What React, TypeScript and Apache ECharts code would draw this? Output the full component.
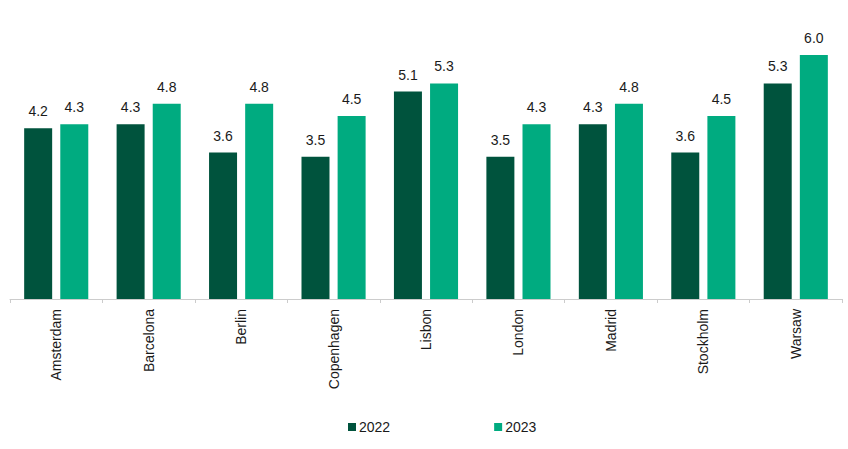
import React, { useEffect, useRef } from "react";
import * as echarts from "echarts";

const categories = ["Amsterdam", "Barcelona", "Berlin", "Copenhagen", "Lisbon", "London", "Madrid", "Stockholm", "Warsaw"];
const values2022 = [4.2, 4.3, 3.6, 3.5, 5.1, 3.5, 4.3, 3.6, 5.3];
const values2023 = [4.3, 4.8, 4.8, 4.5, 5.3, 4.3, 4.8, 4.5, 6.0];

const FONT = "Liberation Sans, Arial, sans-serif";

export default function App() {
  const ref = useRef<HTMLDivElement>(null);
  useEffect(() => {
    if (!ref.current) return;
    const chart = echarts.init(ref.current, undefined, { renderer: "svg" });
    const label = {
      show: true,
      position: "top" as const,
      distance: 10,
      color: "#1a1a1a",
      fontSize: 14,
      fontWeight: "normal" as const,
      fontFamily: FONT,
      formatter: (p: any) => Number(p.value).toFixed(1),
    };
    chart.setOption({
      animation: false,
      textStyle: { fontFamily: FONT },
      grid: { left: 10, right: 6, top: 55, bottom: 150, containLabel: false },
      legend: {
        left: 343,
        top: 415,
        itemWidth: 8,
        itemHeight: 8,
        itemGap: 104,
        icon: "rect",
        textStyle: { fontSize: 14, color: "#1a1a1a", fontFamily: FONT, padding: [0, 0, 0, -2] },
        data: ["2022", "2023"],
      },
      xAxis: {
        type: "category",
        data: categories,
        axisLine: { lineStyle: { color: "#cccccc", width: 1 } },
        axisTick: { show: true, length: 4, lineStyle: { color: "#cccccc" } },
        axisLabel: { rotate: 90, fontSize: 14, color: "#1a1a1a", fontFamily: FONT, margin: 10 },
      },
      yAxis: {
        type: "value",
        min: 0,
        max: 6,
        show: false,
        splitLine: { show: false },
      },
      series: [
        {
          name: "2022",
          type: "bar",
          data: values2022,
          barWidth: 28,
          barGap: "29%",
          itemStyle: { color: "#00533d" },
          label,
        },
        {
          name: "2023",
          type: "bar",
          data: values2023,
          barWidth: 28,
          itemStyle: { color: "#00ab80" },
          label,
        },
      ],
    });
    return () => chart.dispose();
  }, []);
  return <div ref={ref} style={{ width: 848, height: 449, position: "absolute", left: 0, top: 0 }} />;
}
